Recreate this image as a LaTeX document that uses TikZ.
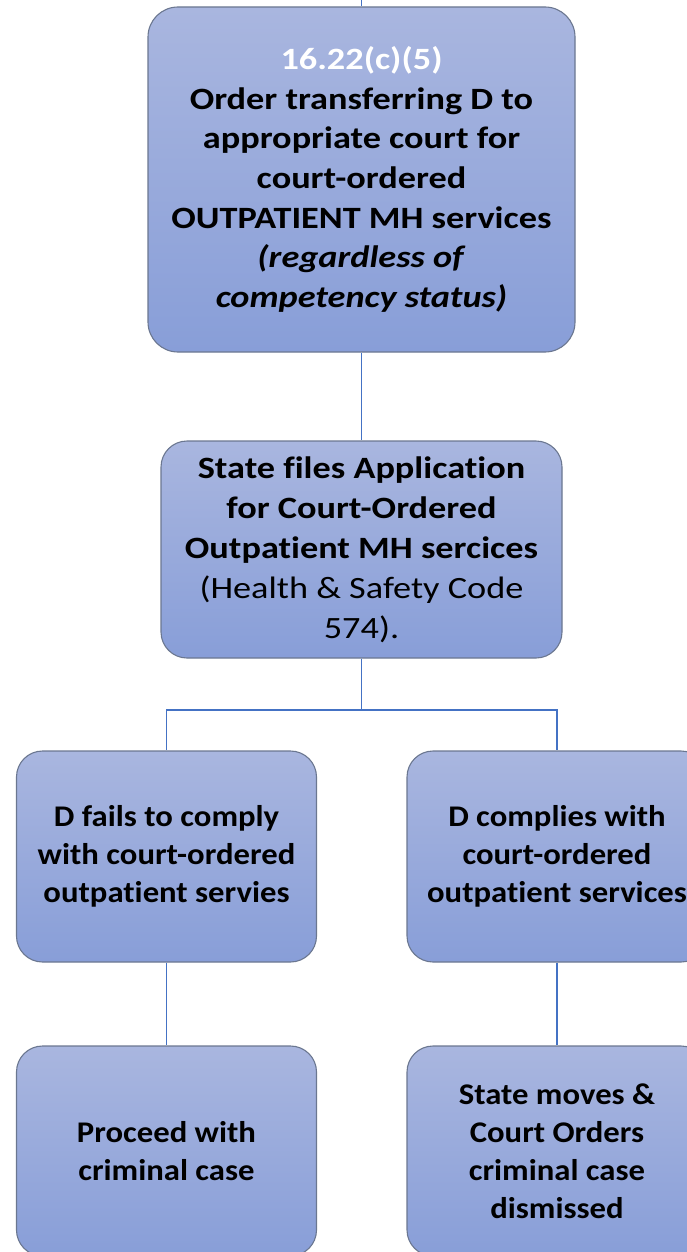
\documentclass[tikz,border=0pt]{standalone}
\usepackage{fontspec}
\setmainfont{Carlito}[Ligatures=CommonOff]
\newfontfamily\widefont[FakeStretch=1.17,Ligatures=CommonOff]{Carlito}
\newfontfamily\midfont[FakeStretch=1.09,Ligatures=CommonOff]{Carlito}
\definecolor{boxtop}{HTML}{A9B6DF}
\definecolor{boxbot}{HTML}{889ED8}
\definecolor{boxline}{HTML}{6B7790}
\definecolor{conn}{HTML}{4472C4}
\tikzset{
  flowbox/.style={draw=boxline, line width=1.1pt, rounded corners=26pt,
    top color=boxtop, bottom color=boxbot, align=center, inner sep=0pt,
    font=\midfont\fontsize{30}{38}\selectfont\bfseries},
  link/.style={draw=conn, line width=1.9pt}
}
\begin{document}
\begin{tikzpicture}[x=1pt,y=-1pt]
\useasboundingbox (0,0) rectangle (687,1252);
\clip (0,0) rectangle (687,1252);
\coordinate (topend) at (361.5,0);
\node[flowbox, rounded corners=30pt, minimum width=427pt, minimum height=345pt,
  font=\widefont\fontsize{31}{39.6}\selectfont\bfseries] (order) at (361.5,179.5)
  {\textcolor{white}{16.22(c)(5)}\\Order transferring D to\\appropriate court for\\court-ordered\\OUTPATIENT MH services\\\textit{(regardless of}\\\textit{competency status)}};
\node[flowbox, minimum width=401pt, minimum height=217pt,
  font=\widefont\fontsize{31}{40}\selectfont\bfseries] (state) at (361.5,549.5)
  {State files Application\\for Court-Ordered\\Outpatient MH sercices\\\mdseries(Health \& Safety Code\\\mdseries 574).};
\node[flowbox, minimum width=300pt, minimum height=211pt] (fails) at (166.5,856.5)
  {D fails to comply\\with court-ordered\\outpatient servies};
\node[flowbox, minimum width=300pt, minimum height=211pt] (complies) at (557,856.5)
  {D complies with\\court-ordered\\outpatient services};
\node[flowbox, minimum width=300pt, minimum height=210pt] (proceed) at (166.5,1151)
  {Proceed with\\criminal case};
\node[flowbox, minimum width=300pt, minimum height=210pt] (dismiss) at (557,1151)
  {State moves \&\\Court Orders\\criminal case\\dismissed};
\draw[link] (topend) -- (order.north);
\draw[link] (order.south) -- (state.north);
\draw[link] (state.south) -- ++(0,51) coordinate (split) -| (fails.north);
\draw[link] (split) -| (complies.north);
\draw[link] (fails.south) -- (proceed.north);
\draw[link] (complies.south) -- (dismiss.north);
\end{tikzpicture}
\end{document}
